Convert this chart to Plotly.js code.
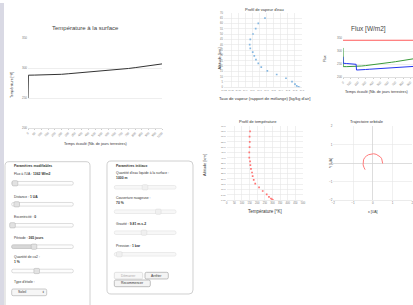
<!DOCTYPE html>
<html><head><meta charset="utf-8">
<script src="https://cdn.plot.ly/plotly-3.0.1.min.js"></script>
<style>html,body{margin:0;padding:0;overflow:hidden;background:#fff;width:413px;height:305px}</style>
</head><body><div id="chart" style="width:420px;height:305px"></div>
<script>
// ---- data ----
const timeDays = [0,3,50,100,150,200,250,300,350,400,450,500,550,600,650,700,750,800,850,900,950,1000];
const surfaceTemp = [250,288,288.2,288.3,288.4,288.5,289.5,290.4,291.3,292.2,293.0,294.0,294.8,295.8,296.8,298.0,299.2,300.6,302.0,303.6,305.2,306.8];
const timeTicks = [0,50,100,150,200,250,300,350,400,450,500,550,600,650,700,750,800,850,900,950,1000];
const fluxTicks = [0,100,200,300,400,500,600,700,800,900];

const fluxDays = [0,3,50,100,150,175,180,200,250,300,350,400,450,500,550,600,650,700,750,800,850,900,950,1000];
const fluxRed = [342.5,342.5,342.5,342.5,342.5,342.5,342.5,342.5,342.5,342.5,342.5,342.5,342.5,342.5,342.5,342.5,342.5,342.5,342.5,342.5,342.5,342.5,342.5,342.5];
const fluxGreen = [313,241,241,241,241,241,241.5,242,243.5,245,246.5,248,250,252,254,256,258,260,262,264.5,267,269.5,272,274];
const fluxBlue = [279,254,253,252,251,250,228,228,229,230,231,232,233,234,235,236,237,238,239,240,241,241.5,242,243];

const altitudeKm = [65,60,55,50,45,40,36.5,33,29.5,26,22.5,19,15.5,12,8.5,5.3,3,1.4,0.5,0];
const vapourRatio = [6.0e-7,6.9e-8,2.95e-8,1.23e-8,5.1e-9,4.2e-9,5.1e-9,1.12e-8,1.86e-8,3.2e-8,6.9e-8,1.8e-7,1.29e-6,2.7e-5,5.5e-4,3.9e-3,1.02e-2,1.78e-2,3.0e-2,4.2e-2];
const vapourTickVals = [1e-12,1e-11,1e-10,1e-9,1e-8,1e-7,1e-6,1e-5,1e-4,1e-3,1e-2,1e-1];
const vapourTickText = ["1e-12","1e-11","1e-10","1e-9","1e-8","1e-7","1e-6","1e-5","1e-4","1e-3","1e-2","1e-1"];
const altTicks = [0,5,10,15,20,25,30,35,40,45,50,55,60,65,70];
const altTickText = ["0.00","5.00","10.0","15.0","20.0","25.0","30.0","35.0","40.0","45.0","50.0","55.0","60.0","65.0","70.0"];
const tempProfile = [153,150,151,150,148,148,153,155,159,166,170,177,187,212,236,262,277,290,297,303];
const tempTicks = [0,50,100,150,200,250,300,350,400,450,500];

const orbitX = [0.5,0.49,0.45,0.38,0.29,0.17,0.04,-0.09,-0.21,-0.32,-0.41,-0.47,-0.5,-0.49,-0.45,-0.39];
const orbitY = [-0.03,0.1,0.23,0.33,0.41,0.47,0.5,0.49,0.45,0.38,0.29,0.17,0.03,-0.1,-0.23,-0.36];

// ---- helpers (layout positions in px of the 420x305 figure) ----
const W = 420, H = 305;
const fx = v => v / W, fy = v => 1 - v / H;
const FONT = "Liberation Sans, Arial, sans-serif";
function rr(x0,y0,x1,y1,r){
  const X=v=>(v/W).toFixed(5), Y=v=>(1-v/H).toFixed(5);
  return `M${X(x0+r)},${Y(y0)} L${X(x1-r)},${Y(y0)} Q${X(x1)},${Y(y0)} ${X(x1)},${Y(y0+r)} L${X(x1)},${Y(y1-r)} Q${X(x1)},${Y(y1)} ${X(x1-r)},${Y(y1)} L${X(x0+r)},${Y(y1)} Q${X(x0)},${Y(y1)} ${X(x0)},${Y(y1-r)} L${X(x0)},${Y(y0+r)} Q${X(x0)},${Y(y0)} ${X(x0+r)},${Y(y0)} Z`;
}
const shapes = [];
const ann = [];
function box(x0,y0,x1,y1,r,fill,line,lw){
  shapes.push({type:'path',xref:'paper',yref:'paper',path:rr(x0,y0,x1,y1,r),fillcolor:fill,line:{color:line,width:lw}});
}
function txt(x,y,text,size,o){
  o = o||{};
  ann.push({xref:'paper',yref:'paper',x:fx(x),y:fy(y),text:text,showarrow:false,
    xanchor:o.xa||'center',yanchor:'middle',textangle:o.rot||0,
    font:{family:FONT,size:size,color:o.color||'#333'}});
}
function slider(x0,x1,y,hx,fillTo,disabled){
  box(x0,y-1.8,x1,y+1.8,1.6,disabled?'#f7f7f7':'#fdfdfd',disabled?'#e0e0e0':'#c8c8c8',0.6);
  if(fillTo) box(x0,y-1.8,fillTo,y+1.8,1.6,'#d8d8d8','#c0c0c0',0.6);
  box(hx-2.8,y-2.6,hx+2.8,y+2.6,1.2,disabled?'#f0f0f0':'#e2e2e2',disabled?'#dedede':'#b8b8b8',0.6);
}

// left strip
shapes.push({type:'rect',xref:'paper',yref:'paper',x0:0,x1:fx(4),y0:0,y1:fy(3),fillcolor:'#d9d9e4',line:{width:0}});

// panels
box(5,161.7,90,330,4,'#fff','#c4c4c4',0.8);
box(107,161,193,294,4,'#fff','#c4c4c4',0.8);

// left panel content
txt(11.7,166,"<b>Paramètres modifiables</b>",3.4,{xa:'left'});
txt(11.7,174.3,"Flux à l'UA : <b>1362 W/m2</b>",3.4,{xa:'left'});
slider(11.7,73.3,183.3,15,0,false);
txt(11.7,196.7,"Distance : <b>1 UA</b>",3.4,{xa:'left'});
slider(11.7,73.3,204.3,16.7,0,false);
txt(11.7,216.7,"Excentricité : <b>0</b>",3.4,{xa:'left'});
slider(11.7,73.3,225.3,12.5,0,false);
txt(11.7,238,"Période : <b>365 jours</b>",3.4,{xa:'left'});
slider(11.7,73.3,246.7,34,34,false);
txt(11.7,257.3,"Quantité de co2 :",3.4,{xa:'left'});
txt(11.7,262.3,"<b>1 %</b>",3.4,{xa:'left'});
slider(11.7,73.3,271,36.7,0,false);
txt(11.7,282.3,"Type d'étoile :",3.4,{xa:'left'});
box(11.7,289,46.7,295.7,1.5,'#f6f6f6','#aaaaaa',0.6);
txt(16,292.4,"Soleil",3.4,{xa:'left'});
txt(43,292.4,"⇕",3.4);

// right panel content
txt(114.3,166,"<b>Paramètres initiaux</b>",3.4,{xa:'left'});
txt(114.3,173.3,"Quantité d'eau liquide à la surface :",3.4,{xa:'left'});
txt(114.3,178.3,"<b>1000 m</b>",3.4,{xa:'left'});
slider(114.3,176,187.3,145,0,true);
txt(114.3,198.3,"Couverture nuageuse :",3.4,{xa:'left'});
txt(114.3,203.3,"<b>70 %</b>",3.4,{xa:'left'});
slider(114.3,176,211.7,158.3,0,true);
txt(114.3,224.3,"Gravité : <b>9.81 m.s-2</b>",3.4,{xa:'left'});
slider(114.3,176,232.7,144,0,true);
txt(114.3,246,"Pression : <b>1 bar</b>",3.4,{xa:'left'});
slider(114.3,176,254.3,119.3,0,true);
box(114.3,272.3,142.7,279,1.5,'#f8f8f8','#d0d0d0',0.6);
txt(128.5,275.7,"Démarrer",3.4,{color:'#aaa'});
box(145,272.3,168.3,279,1.5,'#f4f4f4','#999',0.6);
txt(156.7,275.7,"Arrêter",3.4);
box(114.3,280,150.3,286.7,1.5,'#f4f4f4','#999',0.6);
txt(132.3,283.4,"Recommencer",3.4);

// chart titles / axis titles
txt(85,28,"Température à la surface",6,{color:'#444'});
txt(12,85,"Température [°K]",3.5,{rot:-90});
txt(95,144,"Temps écoulé (Nb. de jours terrestres)",3.7);
txt(264,9.3,"Profil de vapeur d'eau",4);
txt(218.5,59,"Altitude [km]",4,{rot:-90});
txt(264,99,"Taux de vapeur (rapport de mélange) [kg/kg d'air]",4.2);
txt(368,29,"Flux [W/m2]",6.5,{color:'#444'});
txt(325,59,"Flux",3.5,{rot:-90});
txt(376,91.7,"Temps écoulé (Nb. de jours terrestres)",3.7);
txt(258,121.7,"Profil de température",4);
txt(204,165,"Altitude [km]",4,{rot:-90});
txt(265,211.7,"Température [°K]",4.5);
txt(367,121.7,"Trajectoire orbitale",4);
txt(373,212,"x [UA]",3.5);
txt(331,163,"Y [UA]",3.5,{rot:-90});

const tf = {family:FONT,size:3,color:'#777'};
const grid = '#e6e6e6';

const traces = [
  {x:timeDays,y:surfaceTemp,xaxis:'x',yaxis:'y',mode:'lines',line:{color:'#333',width:1},name:'Température'},
  {x:vapourRatio,y:altitudeKm,xaxis:'x2',yaxis:'y2',mode:'markers',marker:{color:'#86b8e2',size:1.7,symbol:'square'},name:'Vapeur'},
  {x:fluxDays,y:fluxRed,xaxis:'x3',yaxis:'y3',mode:'lines',line:{color:'#ff5a5a',width:1},name:'Flux 1'},
  {x:fluxDays,y:fluxGreen,xaxis:'x3',yaxis:'y3',mode:'lines',line:{color:'#3a9a3a',width:1},name:'Flux 2'},
  {x:fluxDays,y:fluxBlue,xaxis:'x3',yaxis:'y3',mode:'lines',line:{color:'#2436f0',width:1},name:'Flux 3'},
  {x:tempProfile,y:altitudeKm,xaxis:'x4',yaxis:'y4',mode:'markers',marker:{color:'#ff7373',size:1.7,symbol:'square'},name:'Température'},
  {x:orbitX,y:orbitY,xaxis:'x5',yaxis:'y5',mode:'lines',line:{color:'#ff7a7a',width:1},name:'Orbite'}
];

const layout = {
  width:W,height:H,margin:{l:0,r:0,t:0,b:0},paper_bgcolor:'#fff',plot_bgcolor:'rgba(0,0,0,0)',
  showlegend:false,font:{family:FONT},
  xaxis:{domain:[fx(28),fx(162)],range:[0,1000],anchor:'y',tickvals:timeTicks,tickangle:-45,tickfont:tf,
    showgrid:false,zeroline:false,showline:true,linecolor:'#ccc',linewidth:0.6,ticks:'outside',ticklen:1.5,tickcolor:'#ccc'},
  yaxis:{domain:[fy(128),fy(38)],range:[200,350],anchor:'x',tickvals:[200,250,300,350],tickfont:tf,
    gridcolor:'#eeeeee',zeroline:false,showline:false},
  xaxis2:{domain:[fx(224),fx(302)],type:'log',range:[-12,-1],anchor:'y2',tickvals:vapourTickVals,ticktext:vapourTickText,
    tickangle:0,tickfont:{family:FONT,size:2.2,color:'#777'},gridcolor:grid,gridwidth:0.6,zeroline:false,showline:true,linecolor:'#ddd',linewidth:0.6},
  yaxis2:{domain:[fy(87.3),fy(12.7)],range:[0,70],anchor:'x2',tickvals:altTicks,tickfont:{family:FONT,size:2.6,color:'#777'},
    gridcolor:grid,gridwidth:0.6,zeroline:false},
  xaxis3:{domain:[fx(343),fx(418)],range:[0,1000],anchor:'y3',tickvals:fluxTicks,tickangle:-45,tickfont:tf,
    showgrid:false,zeroline:false,showline:true,linecolor:'#ccc',linewidth:0.6,ticks:'outside',ticklen:1.5,tickcolor:'#ccc'},
  yaxis3:{domain:[fy(77.3),fy(38.3)],range:[200,350],anchor:'x3',tickvals:[200,250,300,350],tickfont:tf,
    gridcolor:'#eeeeee',zeroline:false},
  xaxis4:{domain:[fx(226.7),fx(303)],range:[0,500],anchor:'y4',tickvals:tempTicks,tickangle:0,tickfont:{family:FONT,size:2.6,color:'#777'},
    gridcolor:grid,gridwidth:0.6,zeroline:false,showline:true,linecolor:'#ddd',linewidth:0.6},
  yaxis4:{domain:[fy(200),fy(126)],range:[0,70],anchor:'x4',tickvals:altTicks,ticktext:altTickText,tickfont:{family:FONT,size:2.4,color:'#777'},
    gridcolor:grid,gridwidth:0.6,zeroline:false},
  xaxis5:{domain:[fx(333.3),fx(412.3)],range:[-2,2],anchor:'y5',tickvals:[-2,-1,0,1,2],tickfont:tf,
    gridcolor:grid,gridwidth:0.6,zeroline:true,zerolinecolor:'#d5d5d5',zerolinewidth:0.8,showline:true,linecolor:'#ddd',linewidth:0.6},
  yaxis5:{domain:[fy(200),fy(126)],range:[-2,2],anchor:'x5',tickvals:[-2,-1,0,1,2],tickfont:tf,
    gridcolor:grid,gridwidth:0.6,zeroline:true,zerolinecolor:'#d5d5d5',zerolinewidth:0.8},
  shapes:shapes,annotations:ann
};

Plotly.newPlot('chart',traces,layout,{staticPlot:true,displayModeBar:false});
</script></body></html>
